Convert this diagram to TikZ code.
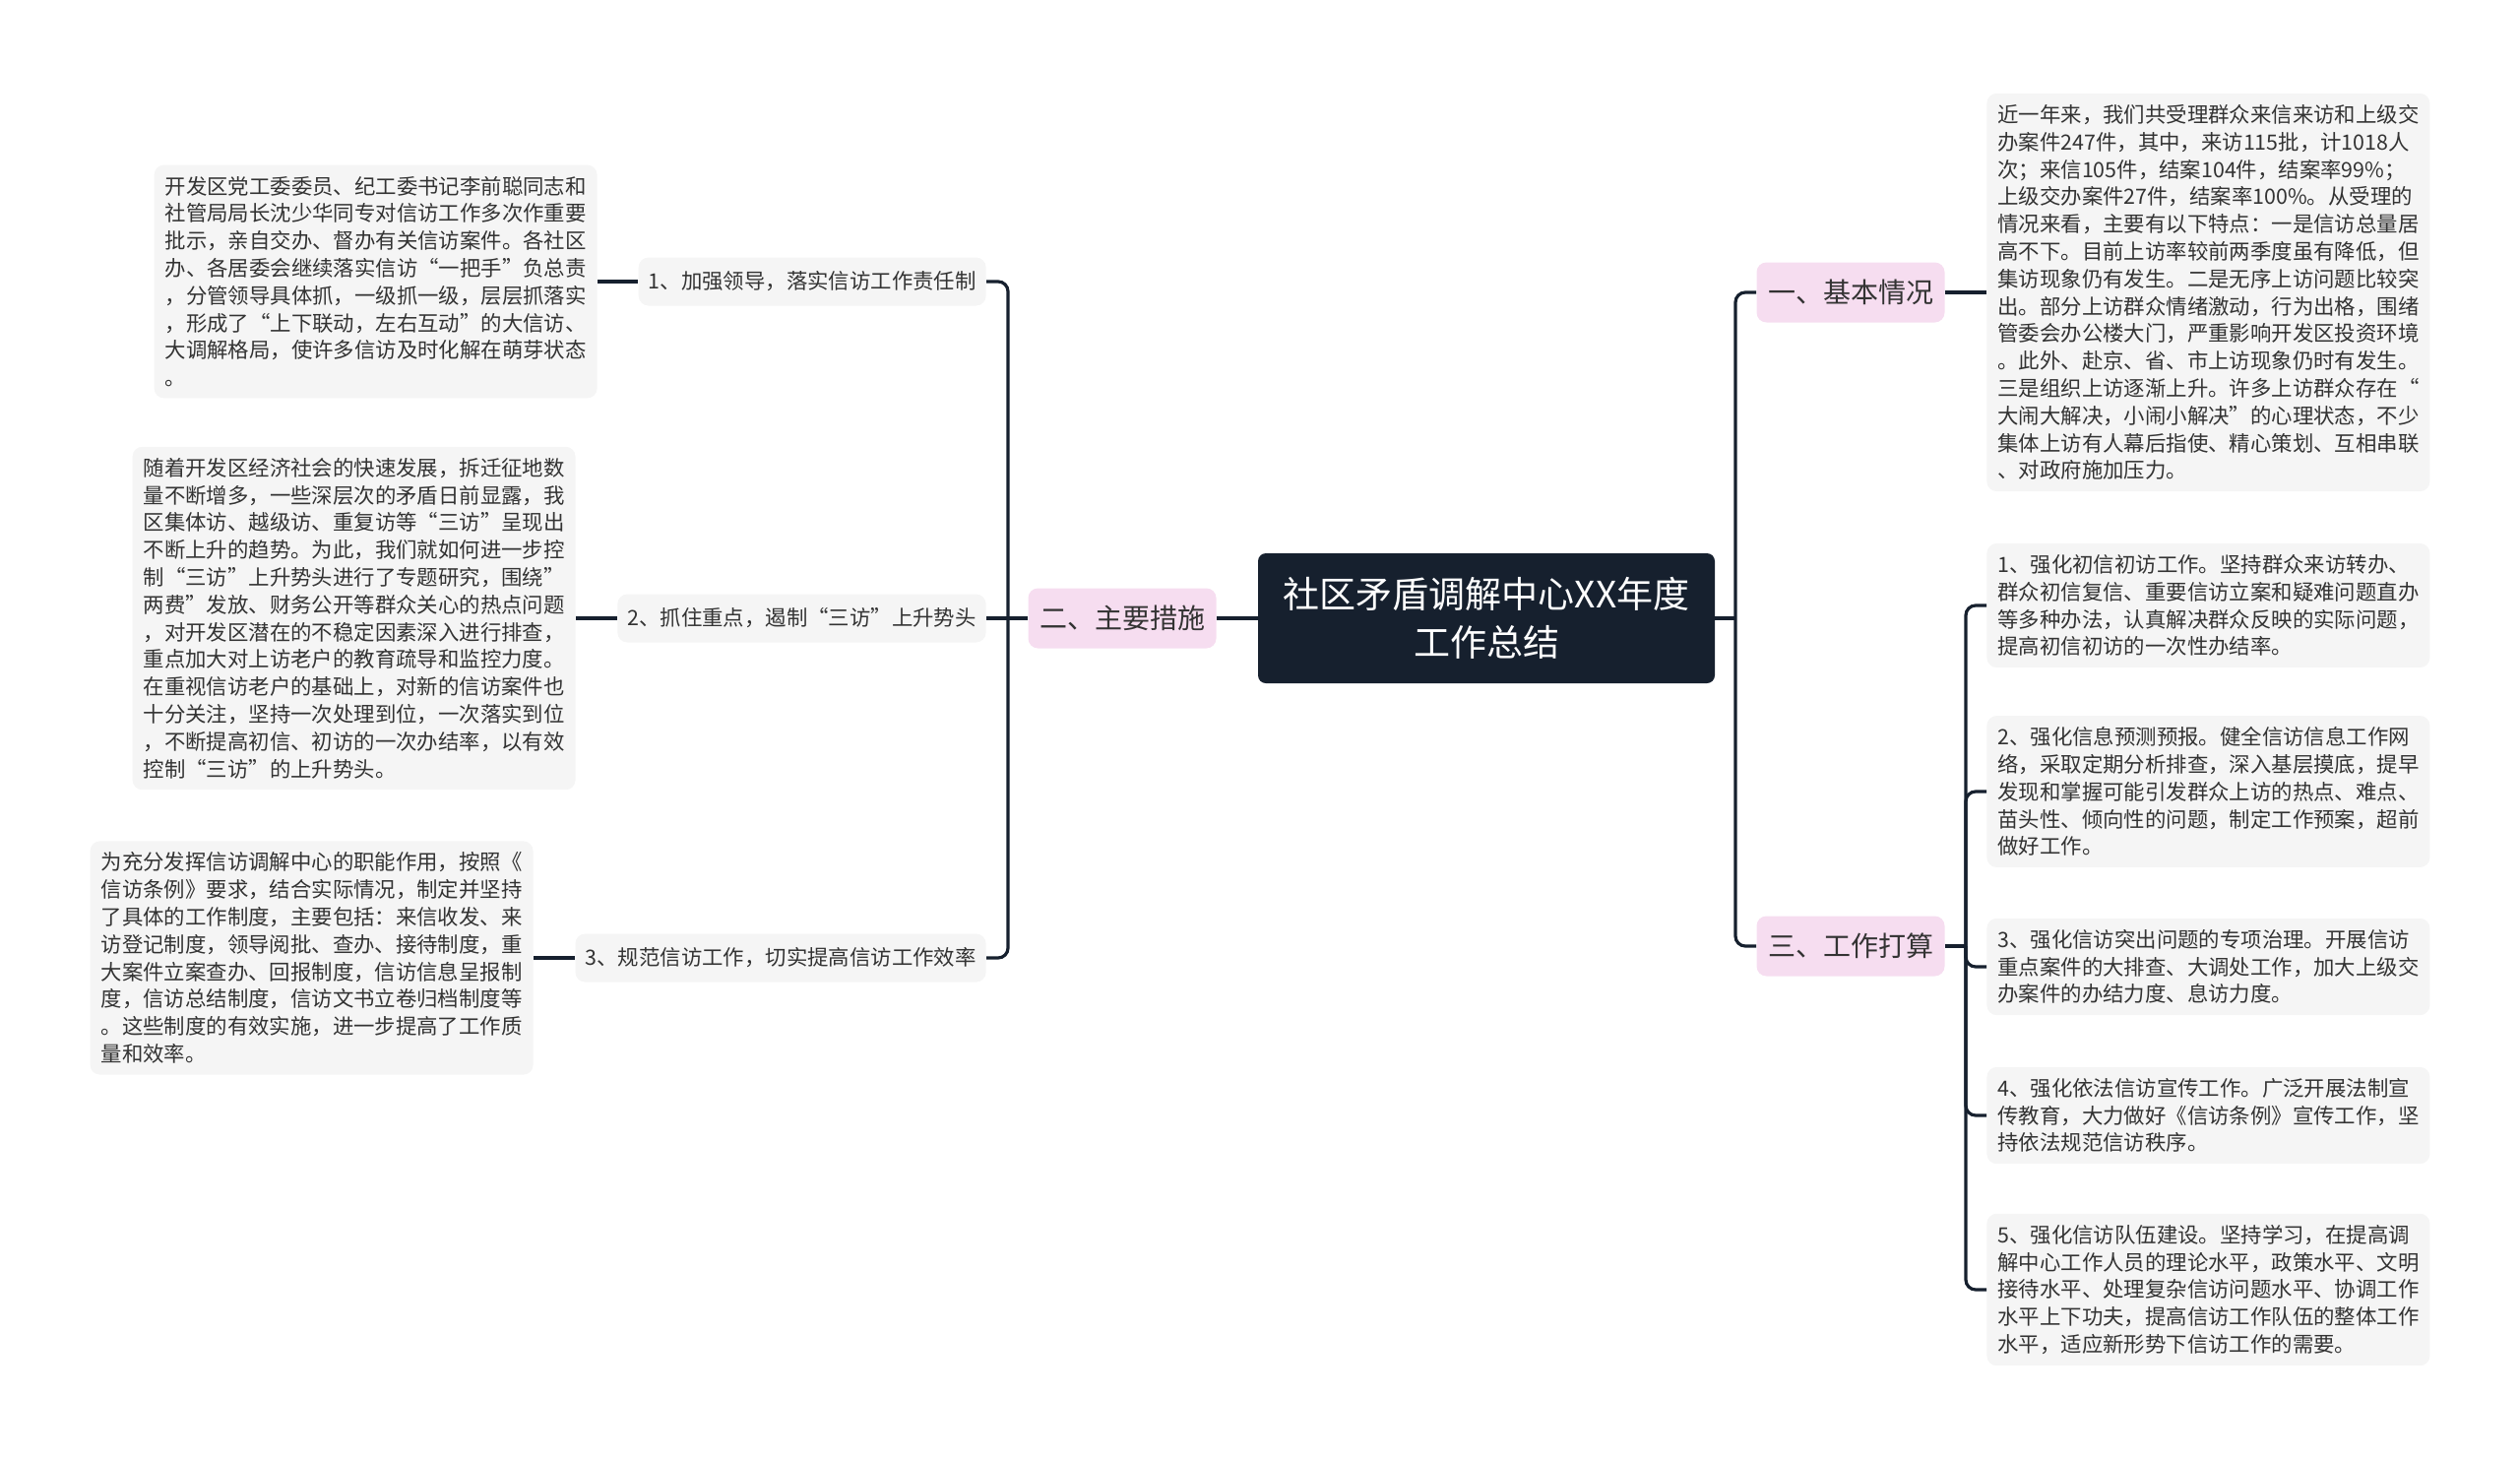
\documentclass[tikz,border=0pt]{standalone}
\usepackage{fontspec}
\setmainfont{Noto Sans CJK SC}
\usepackage{xcolor}
\definecolor{RootNavy}  {RGB}{22,  32,  46}
\definecolor{BranchPink}{RGB}{246, 221, 240}
\definecolor{LeafGray}  {RGB}{245, 245, 245}
\definecolor{TextGray}  {RGB}{51,  51,  51}
\usepackage{tikz}
\usetikzlibrary{
  positioning
}

\begin{document}
\begin{tikzpicture}[
  x=0.5pt, y=-0.5pt,
  font=\fontsize{10.7}{13.9}\selectfont,
  root/.style={
    fill=RootNavy, text=white,
    rounded corners=4pt, align=center,
    minimum width=232pt, minimum height=66pt,
    font=\fontsize{18.5}{24.5}\selectfont
  },
  branch/.style={
    fill=BranchPink, text=TextGray,
    rounded corners=5pt,
    minimum width=95.5pt, minimum height=30.5pt,
    font=\fontsize{14}{16}\selectfont
  },
  item/.style={
    fill=LeafGray, text=TextGray,
    rounded corners=5pt, inner xsep=5pt,
    minimum height=24.5pt
  },
  leaf/.style={
    fill=LeafGray, text=TextGray,
    rounded corners=5pt, align=left,
    text width=214pt,
    inner xsep=5.5pt, inner ysep=5.7pt
  },
  link/.style={
    draw=RootNavy, line width=1.6pt,
    rounded corners=5pt}
]
\useasboundingbox (0,0) rectangle (2560,1483);

\node[root] (root) at (1510,628)
  {社区矛盾调解中心XX年度\\工作总结};

% left side
\node[branch] (b2) at (1140,628) {二、主要措施};
\node[item, anchor=east] (i1) at (1002,286)
  {1、加强领导，落实信访工作责任制};
\node[item, anchor=east] (i2) at (1002,628)
  {2、抓住重点，遏制“三访”上升势头};
\node[item, anchor=east] (i3) at (1002,973)
  {3、规范信访工作，切实提高信访工作效率};
\node[leaf, anchor=east] (l1) at (607,286)
  {开发区党工委委员、纪工委书记李前聪同志和\\
   社管局局长沈少华同专对信访工作多次作重要\\
   批示，亲自交办、督办有关信访案件。各社区\\
   办、各居委会继续落实信访“一把手”负总责\\
   ，分管领导具体抓，一级抓一级，层层抓落实\\
   ，形成了“上下联动，左右互动”的大信访、\\
   大调解格局，使许多信访及时化解在萌芽状态\\
   。};
\node[leaf, anchor=east] (l2) at (585,628)
  {随着开发区经济社会的快速发展，拆迁征地数\\
   量不断增多，一些深层次的矛盾日前显露，我\\
   区集体访、越级访、重复访等“三访”呈现出\\
   不断上升的趋势。为此，我们就如何进一步控\\
   制“三访”上升势头进行了专题研究，围绕”\\
   两费”发放、财务公开等群众关心的热点问题\\
   ，对开发区潜在的不稳定因素深入进行排查，\\
   重点加大对上访老户的教育疏导和监控力度。\\
   在重视信访老户的基础上，对新的信访案件也\\
   十分关注，坚持一次处理到位，一次落实到位\\
   ，不断提高初信、初访的一次办结率，以有效\\
   控制“三访”的上升势头。};
\node[leaf, anchor=east] (l3) at (542,973)
  {为充分发挥信访调解中心的职能作用，按照《\\
   信访条例》要求，结合实际情况，制定并坚持\\
   了具体的工作制度，主要包括：来信收发、来\\
   访登记制度，领导阅批、查办、接待制度，重\\
   大案件立案查办、回报制度，信访信息呈报制\\
   度，信访总结制度，信访文书立卷归档制度等\\
   。这些制度的有效实施，进一步提高了工作质\\
   量和效率。};

% right side
\node[branch] (b1) at (1880,297) {一、基本情况};
\node[branch] (b3) at (1880,961) {三、工作打算};
\node[leaf, anchor=west] (r1) at (2018,297)
  {近一年来，我们共受理群众来信来访和上级交\\
   办案件247件，其中，来访115批，计1018人\\
   次；来信105件，结案104件，结案率99\%；\\
   上级交办案件27件，结案率100\%。从受理的\\
   情况来看，主要有以下特点：一是信访总量居\\
   高不下。目前上访率较前两季度虽有降低，但\\
   集访现象仍有发生。二是无序上访问题比较突\\
   出。部分上访群众情绪激动，行为出格，围绪\\
   管委会办公楼大门，严重影响开发区投资环境\\
   。此外、赴京、省、市上访现象仍时有发生。\\
   三是组织上访逐渐上升。许多上访群众存在“\\
   大闹大解决，小闹小解决”的心理状态，不少\\
   集体上访有人幕后指使、精心策划、互相串联\\
   、对政府施加压力。};
\node[leaf, anchor=west] (t1) at (2018,615)
  {1、强化初信初访工作。坚持群众来访转办、\\
   群众初信复信、重要信访立案和疑难问题直办\\
   等多种办法，认真解决群众反映的实际问题，\\
   提高初信初访的一次性办结率。};
\node[leaf, anchor=west] (t2) at (2018,804)
  {2、强化信息预测预报。健全信访信息工作网\\
   络，采取定期分析排查，深入基层摸底，提早\\
   发现和掌握可能引发群众上访的热点、难点、\\
   苗头性、倾向性的问题，制定工作预案，超前\\
   做好工作。};
\node[leaf, anchor=west] (t3) at (2018,982)
  {3、强化信访突出问题的专项治理。开展信访\\
   重点案件的大排查、大调处工作，加大上级交\\
   办案件的办结力度、息访力度。};
\node[leaf, anchor=west] (t4) at (2018,1133)
  {4、强化依法信访宣传工作。广泛开展法制宣\\
   传教育，大力做好《信访条例》宣传工作，坚\\
   持依法规范信访秩序。};
\node[leaf, anchor=west] (t5) at (2018,1310)
  {5、强化信访队伍建设。坚持学习，在提高调\\
   解中心工作人员的理论水平，政策水平、文明\\
   接待水平、处理复杂信访问题水平、协调工作\\
   水平上下功夫，提高信访工作队伍的整体工作\\
   水平，适应新形势下信访工作的需要。};

\coordinate (jl) at (1024,628);
\coordinate (jr) at (1763,628);
\coordinate (jt) at (1997,961);

\draw[link] (root.west) -- (b2.east);
\draw[link] (b2.west) -- (i2.east);
\draw[link] (i1.east) -| (jl) |- (i3.east);
\draw[link] (l1.east) -- (i1.west);
\draw[link] (l2.east) -- (i2.west);
\draw[link] (l3.east) -- (i3.west);

\draw[link] (root.east) -- (jr);
\draw[link] (b1.west) -| (jr) |- (b3.west);
\draw[link] (b1.east) -- (r1.west);
\draw[link] (b3.east) -- (jt);
\draw[link] (t1.west) -| (jt) |- (t5.west);
\draw[link] (jt) |- (t2.west);
\draw[link] (jt) |- (t3.west);
\draw[link] (jt) |- (t4.west);

\end{tikzpicture}
\end{document}
